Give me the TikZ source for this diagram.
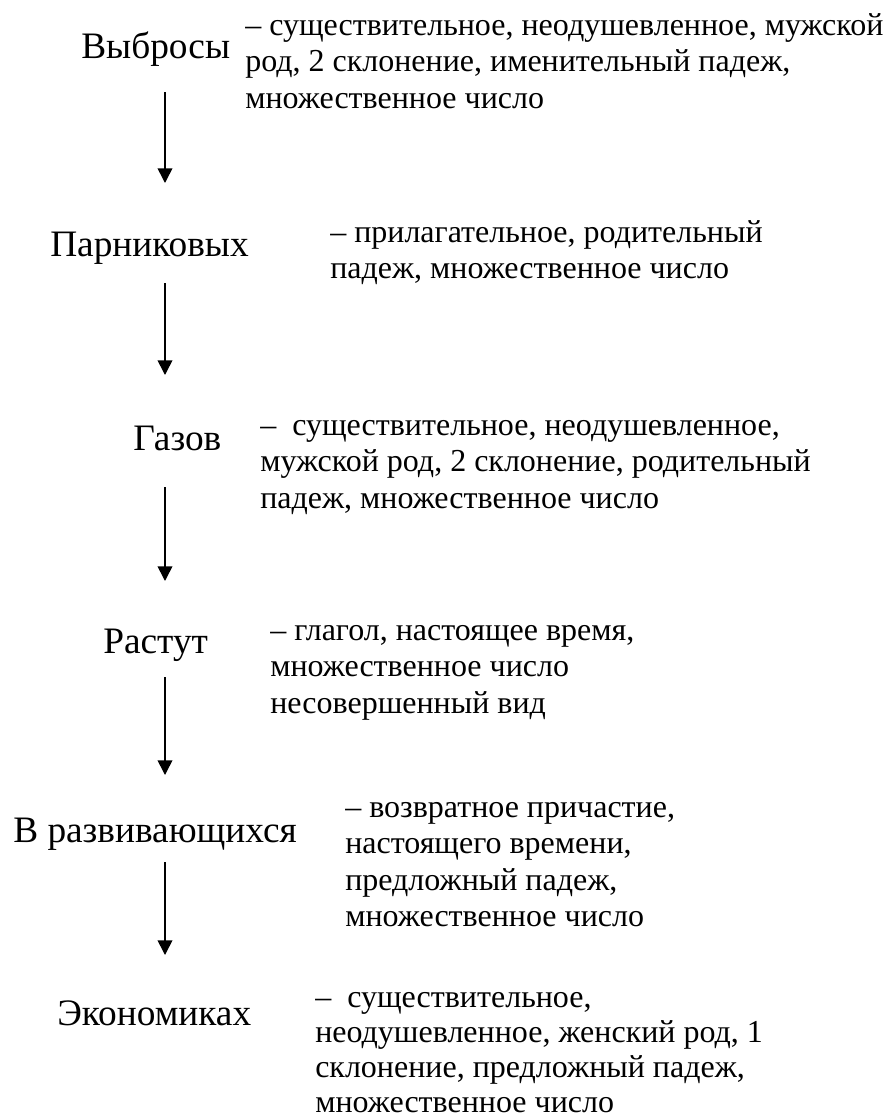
\documentclass[tikz,border=0pt]{standalone}
\usepackage{fontspec}
\setmainfont{Liberation Serif}
\usetikzlibrary{arrows.meta}
\tikzset{
  word/.style={anchor=base west, inner sep=0pt, font=\fontsize{28}{32}\selectfont},
  desc/.style={anchor=base west, inner sep=0pt, font=\fontsize{24}{27.4}\selectfont},
  desctight/.style={desc, font=\fontsize{24}{26.25}\selectfont},
  flow/.style={line width=1.2pt, -{Triangle[length=11pt,width=11pt]}}
}
\newcommand{\ml}[1]{\begin{tabular}[t]{@{}l@{}}#1\end{tabular}}
\begin{document}
\begin{tikzpicture}[x=0.75pt,y=-0.75pt]
\useasboundingbox (0,0) rectangle (887,1117);
% words
\node[word] (w1) at (81,58) {Выбросы};
\node[word] (w2) at (50,256) {Парниковых};
\node[word] (w3) at (133,450) {Газов};
\node[word] (w4) at (103,653) {Растут};
\node[word] (w5) at (13,842) {В развивающихся};
\node[word] (w6) at (57,1025) {Экономиках};
% descriptions
\node[desc] (d1) at (245,35) {\ml{– существительное, неодушевленное, мужской\\род, 2 склонение, именительный падеж,\\множественное число}};
\node[desc] (d2) at (330,242) {\ml{– прилагательное, родительный\\падеж, множественное число}};
\node[desc] (d3) at (260,435) {\ml{–~ существительное, неодушевленное,\\мужской род, 2 склонение, родительный\\падеж, множественное число}};
\node[desc] (d4) at (270,640) {\ml{– глагол, настоящее время,\\множественное число\\несовершенный вид}};
\node[desc] (d5) at (345,817) {\ml{– возвратное причастие,\\настоящего времени,\\предложный падеж,\\множественное число}};
\node[desctight] (d6) at (315,1007) {\ml{–~ существительное,\\неодушевленное, женский род, 1\\склонение, предложный падеж,\\множественное число}};
% arrow end points
\coordinate (a1s) at (165,92);  \coordinate (a1e) at (165,183);
\coordinate (a2s) at (165,283); \coordinate (a2e) at (165,375);
\coordinate (a3s) at (165,487); \coordinate (a3e) at (165,581);
\coordinate (a4s) at (165,677); \coordinate (a4e) at (165,775);
\coordinate (a5s) at (165,862); \coordinate (a5e) at (165,955);
\draw[flow] (a1s) -- (a1e);
\draw[flow] (a2s) -- (a2e);
\draw[flow] (a3s) -- (a3e);
\draw[flow] (a4s) -- (a4e);
\draw[flow] (a5s) -- (a5e);
\end{tikzpicture}
\end{document}
